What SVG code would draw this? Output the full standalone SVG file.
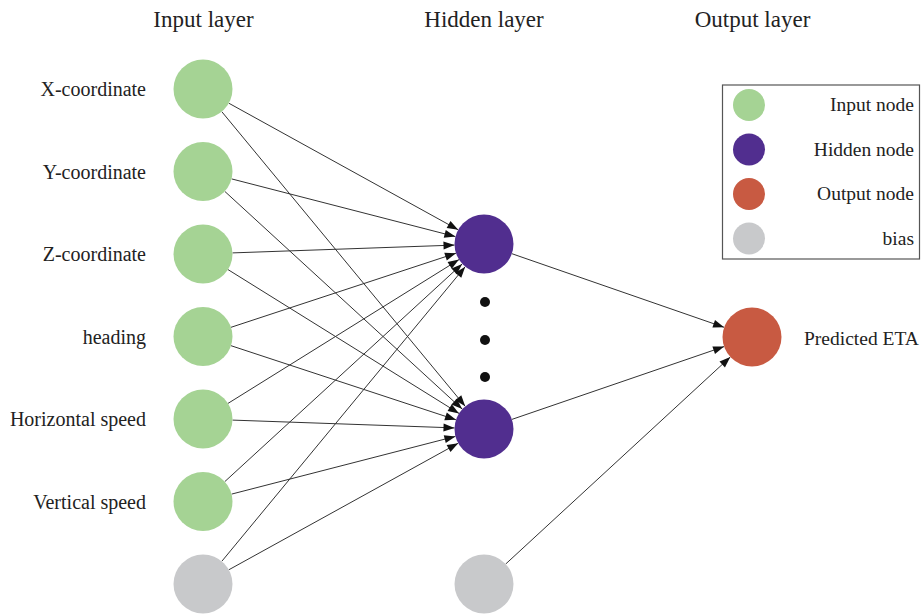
<svg xmlns="http://www.w3.org/2000/svg" width="923" height="614" viewBox="0 0 923 614">
<style>
text{font-family:"Liberation Serif","Times New Roman",serif;fill:#222}
.title{font-size:23px;text-anchor:middle}
.lbl{font-size:20px;text-anchor:end}
.leg{font-size:19.5px;text-anchor:end}
.in{fill:#a5d394}
.hid{fill:#512e8f}
.out{fill:#c85a42}
.bias{fill:#c8c9cb}
.edge{stroke:#333;stroke-width:1;fill:none;marker-end:url(#arr)}
</style>
<defs>
<marker id="arr" markerUnits="userSpaceOnUse" markerWidth="11" markerHeight="8" refX="11" refY="4" orient="auto" overflow="visible">
<path d="M0,0 L11,4 L0,8 z" fill="#111"/>
</marker>
</defs>
<rect width="923" height="614" fill="#fff"/>
<g id="titles">
<text class="title" x="203.5" y="27">Input layer</text>
<text class="title" x="484" y="27">Hidden layer</text>
<text class="title" x="752.5" y="27">Output layer</text>
</g>
<g id="connectors">
<line class="edge" x1="228.8" y1="103.2" x2="458.2" y2="229.8"/>
<line class="edge" x1="231.6" y1="178.9" x2="455.4" y2="236.6"/>
<line class="edge" x1="232.5" y1="252.9" x2="454.5" y2="245.1"/>
<line class="edge" x1="231.0" y1="327.3" x2="456.0" y2="253.2"/>
<line class="edge" x1="228.0" y1="403.4" x2="459.0" y2="259.6"/>
<line class="edge" x1="224.8" y1="481.6" x2="462.2" y2="263.9"/>
<line class="edge" x1="221.8" y1="561.3" x2="465.2" y2="266.7"/>
<line class="edge" x1="221.8" y1="111.7" x2="465.2" y2="406.3"/>
<line class="edge" x1="224.8" y1="191.4" x2="462.2" y2="409.1"/>
<line class="edge" x1="228.0" y1="269.6" x2="459.0" y2="413.4"/>
<line class="edge" x1="231.0" y1="345.7" x2="456.0" y2="419.8"/>
<line class="edge" x1="232.5" y1="420.1" x2="454.5" y2="427.9"/>
<line class="edge" x1="231.6" y1="494.1" x2="455.4" y2="436.4"/>
<line class="edge" x1="228.8" y1="569.8" x2="458.2" y2="443.2"/>
<line class="edge" x1="511.9" y1="253.7" x2="724.1" y2="327.3"/>
<line class="edge" x1="511.9" y1="419.4" x2="724.1" y2="346.6"/>
<line class="edge" x1="505.7" y1="564.0" x2="730.3" y2="357.0"/>
</g>
<g id="in1"><circle class="in" cx="203" cy="89" r="29.5"/><text class="lbl" x="146" y="96">X-coordinate</text></g>
<g id="in2"><circle class="in" cx="203" cy="171.5" r="29.5"/><text class="lbl" x="146" y="178.5">Y-coordinate</text></g>
<g id="in3"><circle class="in" cx="203" cy="254" r="29.5"/><text class="lbl" x="146" y="261">Z-coordinate</text></g>
<g id="in4"><circle class="in" cx="203" cy="336.5" r="29.5"/><text class="lbl" x="146" y="343.5">heading</text></g>
<g id="in5"><circle class="in" cx="203" cy="419" r="29.5"/><text class="lbl" x="146" y="426">Horizontal speed</text></g>
<g id="in6"><circle class="in" cx="203" cy="501.5" r="29.5"/><text class="lbl" x="146" y="508.5">Vertical speed</text></g>
<g id="bias-in"><circle class="bias" cx="203" cy="584" r="29.5"/></g>
<g id="hid1"><circle class="hid" cx="484" cy="244" r="29.5"/></g>
<g id="dots"><circle cx="485" cy="302" r="5" fill="#111"/><circle cx="485" cy="340" r="5" fill="#111"/><circle cx="485" cy="377" r="5" fill="#111"/></g>
<g id="hid2"><circle class="hid" cx="484" cy="429" r="29.5"/></g>
<g id="bias-hid"><circle class="bias" cx="484" cy="584" r="29.5"/></g>
<g id="out"><circle class="out" cx="752" cy="337" r="29.5"/><text x="804" y="345" style="font-size:19.5px">Predicted ETA</text></g>
<g id="legend">
<rect x="722.5" y="85" width="197" height="174" fill="none" stroke="#555" stroke-width="1.2"/>
<circle class="in" cx="749" cy="105" r="16"/><text class="leg" x="914" y="111">Input node</text>
<circle class="hid" cx="749" cy="149.5" r="16"/><text class="leg" x="914" y="155.5">Hidden node</text>
<circle class="out" cx="749" cy="194" r="16"/><text class="leg" x="914" y="200">Output node</text>
<circle class="bias" cx="749" cy="238.5" r="16"/><text class="leg" x="914" y="244.5">bias</text>
</g>
</svg>
